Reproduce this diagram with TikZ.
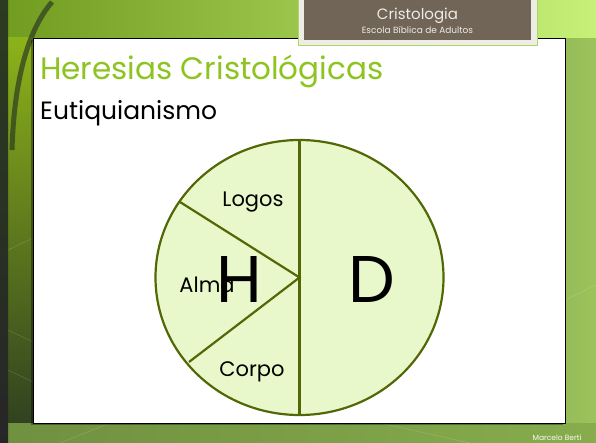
\documentclass[tikz,border=0pt]{standalone}
\usepackage{fontspec}
\setmainfont{Poppins}
\usepackage{tikz}
\usetikzlibrary{positioning}
\definecolor{leaf}{RGB}{141,196,31}
\definecolor{lime}{RGB}{198,240,120}
\definecolor{moss}{RGB}{44,60,32}
\definecolor{fern}{RGB}{128,165,72}
\definecolor{rind}{RGB}{82,104,6}
\definecolor{pulp}{RGB}{233,248,203}
\definecolor{bark}{RGB}{112,101,86}
\definecolor{chalk}{RGB}{238,236,230}

\begin{document}
\begin{tikzpicture}[x=1pt,y=-1pt,
  part/.style={font=\fontsize{21}{21}\selectfont,inner sep=0pt,anchor=base},
  nature/.style={font=\fontsize{66}{66}\selectfont,inner sep=0pt,anchor=base},
  spoke/.style={rind,line width=2.2pt}]
\useasboundingbox (0,0) rectangle (596,443);
\shade[left color=moss,right color=fern!60!lime] (0,0) rectangle (596,443);
\shade[left color=leaf!70!moss,right color=lime] (0,0) rectangle (596,38);
\shade[top color=leaf!80!yellow!80!moss,bottom color=moss] (0,38) rectangle (33,443);
\shade[left color=fern!80!moss,right color=fern!90!lime] (0,423) rectangle (596,443);
\shade[top color=moss,bottom color=black!85] (0,0) rectangle (8,443);
\draw[moss,line width=5pt,opacity=.7] (52,2) .. controls (28,30) and (14,80) .. (12,150);
\draw[white,opacity=.2] (8,250) -- (33,238) (8,330) -- (33,342) (8,370) -- (33,382)
  (60,443) -- (110,423) (380,423) -- (470,443) (565,300) -- (596,285);
% panel
\fill[black,opacity=.35] (31,40) rectangle (563,425);
\draw[black,fill=white,line width=.8pt] (33,38) rectangle (565,423);
% header
\draw[leaf!70,fill=chalk,line width=.8pt] (298,-2) rectangle (537,45);
\fill[bark] (304,-2) rectangle (531,40.5);
\node[chalk,font=\fontsize{15}{15}\selectfont,inner sep=0pt,anchor=base] (head) at (417.5,20) {Cristologia};
\node[chalk,font=\fontsize{9}{9}\selectfont,inner sep=0pt,anchor=base] (school) at (417.5,33.5) {Escola Bíblica de Adultos};
\node[leaf,font=\fontsize{31}{31}\selectfont,inner sep=0pt,anchor=base west] (title) at (40,80) {Heresias Cristológicas};
\node[font=\fontsize{25}{25}\selectfont,inner sep=0pt,anchor=base west] (sub) at (40,120) {Eutiquianismo};
% circle
\coordinate (c) at (299.5,277.5);
\coordinate (top) at (299.5,140);
\coordinate (bot) at (299.5,415);
\coordinate (ul) at (180,202);
\coordinate (ll) at (189,362);
\draw[spoke,fill=pulp] (c) ellipse [x radius=144,y radius=137.5];
\draw[spoke] (top) -- (bot);
\draw[spoke] (ul) -- (c) -- (ll);
\node[part] (logos) at (253,207) {Logos};
\node[part] (alma) at (207,292) {Alma};
\node[part] (corpo) at (252,376) {Corpo};
\node[nature] (h) at (239,302) {H};
\node[nature] (d) at (372,302) {D};
\node[white!90!lime,font=\fontsize{7.5}{7.5}\selectfont,inner sep=0pt,anchor=base] (author) at (557,440) {Marcelo Berti};
\end{tikzpicture}
\end{document}
